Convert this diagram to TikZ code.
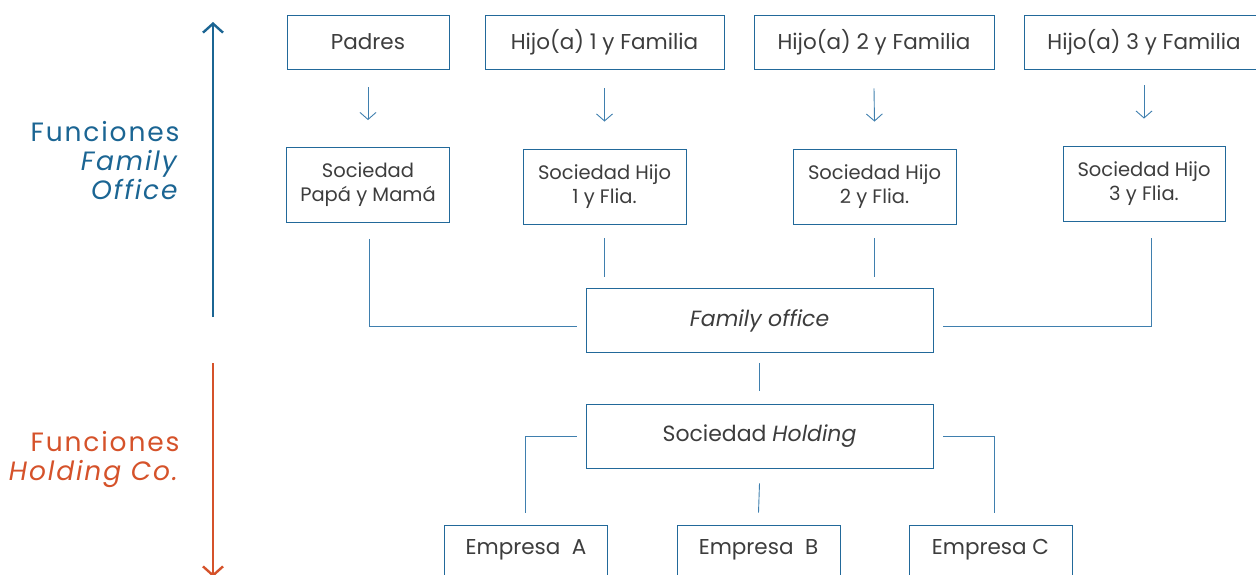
\documentclass[tikz,border=0pt]{standalone}
\usepackage{fontspec}
\setmainfont{Poppins}
\usetikzlibrary{arrows.meta}
\definecolor{boxblue}{HTML}{22699A}
\definecolor{lineblue}{HTML}{3F7FAE}
\definecolor{txt}{HTML}{3D3D3D}
\definecolor{lblblue}{HTML}{1B6593}
\definecolor{lblorange}{HTML}{D5522A}
\tikzset{
  box/.style={draw=boxblue, line width=0.9pt, rectangle, text=txt, align=center, inner sep=0pt},
  toprow/.style={box, minimum height=54pt, font=\fontsize{21.5}{24}\selectfont},
  midrow/.style={box, minimum height=75pt, minimum width=163pt, font=\fontsize{19.5}{24}\selectfont},
  bigrow/.style={box, minimum height=64pt, minimum width=347pt, font=\fontsize{22}{24}\selectfont},
  emprow/.style={box, minimum height=50pt, minimum width=163pt, font=\fontsize{21.5}{24}\selectfont},
  conn/.style={draw=lineblue, line width=0.9pt},
  smallarrow/.style={conn, -{Straight Barb[length=7pt,width=16pt,line width=0.9pt]}},
  bigarrow/.style={line width=2.6pt, -{Straight Barb[length=9pt,width=20pt,line width=2.4pt]}},
  lbl/.style={align=right, anchor=east, font=\fontsize{26.5}{29}\selectfont\addfontfeature{LetterSpace=7}}
}
\begin{document}
\begin{tikzpicture}[x=1pt,y=-1pt]
\useasboundingbox (0,0) rectangle (1256,574);
\clip (0,0) rectangle (1256,574);
% top row
\node[toprow, minimum width=162pt] (padres) at (368,42) {Padres};
\node[toprow, minimum width=239pt] (h1) at (604.5,42) {Hijo(a) 1 y Familia};
\node[toprow, minimum width=240pt] (h2) at (874,42) {Hijo(a) 2 y Familia};
\node[toprow, minimum width=240pt] (h3) at (1144,42) {Hijo(a) 3 y Familia};
% second row
\node[midrow] (spm) at (368,185) {Sociedad\\Papá y Mamá};
\node[midrow] (s1) at (604.5,186.5) {Sociedad Hijo\\1 y Flia.};
\node[midrow] (s2) at (874.5,186.5) {Sociedad Hijo\\2 y Flia.};
\node[midrow, minimum width=162pt] (s3) at (1144,183.5) {Sociedad Hijo\\3 y Flia.};
% family office and holding
\node[bigrow] (fo) at (759.5,320.5) {\itshape Family office};
\node[bigrow] (hold) at (759.5,436) {Sociedad \textit{Holding}};
% empresas
\node[emprow] (ea) at (526,550) {Empresa\ \ A};
\node[emprow] (eb) at (758.5,550) {Empresa\ \ B};
\node[emprow] (ec) at (990.5,550) {Empresa C};
% small arrows
\draw[smallarrow] ([yshift=-18pt]padres.south) -- ([yshift=27pt]spm.north);
\draw[smallarrow] ([yshift=-19pt]h1.south) -- ([yshift=27pt]s1.north);
\draw[smallarrow] ([yshift=-19pt]h2.south) -- ([yshift=27pt]s2.north);
\draw[smallarrow] ([yshift=-16pt]h3.south) -- ([yshift=27pt]s3.north);
% connectors to family office
\draw[conn] ([xshift=1pt,yshift=-16pt]spm.south) |- ([xshift=-9pt,yshift=-5.5pt]fo.west);
\draw[conn] ([xshift=7pt,yshift=-17pt]s3.south) |- ([xshift=10pt,yshift=-5.5pt]fo.east);
\coordinate (s1end) at ([yshift=-53pt]s1.south);
\coordinate (s2end) at ([yshift=-53pt]s2.south);
\draw[conn] ([yshift=-14pt]s1.south) -- (s1end);
\draw[conn] ([yshift=-14pt]s2.south) -- (s2end);
% family office to holding
\draw[conn] ([yshift=-10pt]fo.south) -- ([yshift=13pt]hold.north);
% holding to empresas
\draw[conn] ([xshift=-9pt]hold.west) -| ([xshift=-1pt,yshift=12pt]ea.north);
\draw[conn] ([yshift=-15pt]hold.south) -- ([yshift=12pt]eb.north);
\draw[conn] ([xshift=10pt]hold.east) -| ([xshift=3.5pt,yshift=12pt]ec.north);
% side arrows
\coordinate (fostart) at (213,317);
\coordinate (foend) at (213,22);
\coordinate (hostart) at (213,363);
\coordinate (hoend) at (213,577);
\draw[bigarrow, draw=lblblue] (fostart) -- (foend);
\draw[bigarrow, draw=lblorange] (hostart) -- (hoend);
% labels
\node[lbl, text=lblblue] (lfo) at (183,161) {Funciones\\\textit{Family}\\\textit{Office}};
\node[lbl, text=lblorange] (lho) at (183,459.5) {Funciones\\\textit{Holding Co.}};
\end{tikzpicture}
\end{document}
